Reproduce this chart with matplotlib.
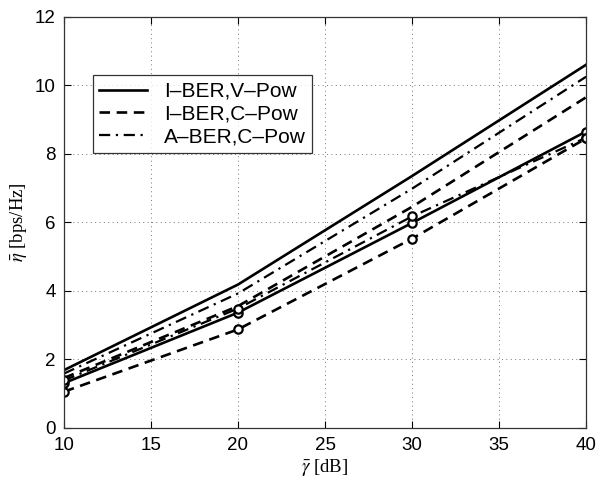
import matplotlib
matplotlib.use("Agg")
import matplotlib.pyplot as plt

snr_db = [10, 20, 30, 40]

# upper group (no markers)
ivpow = [1.68, 4.18, 7.35, 10.60]
icpow = [1.45, 3.55, 6.45, 9.65]
acpow = [1.58, 3.92, 6.98, 10.25]

# lower group (circle markers)
ivpow_o = [1.30, 3.36, 5.98, 8.65]
icpow_o = [1.05, 2.87, 5.52, 8.45]
acpow_o = [1.38, 3.48, 6.17, 8.47]

legend_labels = ["I\u2013BER,V\u2013Pow", "I\u2013BER,C\u2013Pow", "A\u2013BER,C\u2013Pow"]
xticks = [10, 15, 20, 25, 30, 35, 40]
yticks = [0, 2, 4, 6, 8, 10, 12]

plt.rcParams['font.family'] = ['Liberation Sans', 'DejaVu Sans']
plt.rcParams['mathtext.fontset'] = 'stix'

fig = plt.figure(figsize=(6.03, 4.80), dpi=100)
ax = fig.add_axes([0.106, 0.109, 0.866, 0.856])

lw = 1.9
ax.plot(snr_db, ivpow, color='black', lw=lw, ls='-', label=legend_labels[0])
ax.plot(snr_db, icpow, color='black', lw=lw, ls=(0, (4, 2.5)), label=legend_labels[1])
ax.plot(snr_db, acpow, color='black', lw=lw * 0.85, ls=(0, (5, 2.5, 1, 2.5)), label=legend_labels[2])

mk = dict(marker='o', mfc='white', mec='black', ms=6, mew=1.6)
ax.plot(snr_db, ivpow_o, color='black', lw=lw, ls='-', **mk)
ax.plot(snr_db, icpow_o, color='black', lw=lw, ls=(0, (4, 2.5)), **mk)
ax.plot(snr_db, acpow_o, color='black', lw=lw * 0.85, ls=(0, (5, 2.5, 1, 2.5)), **mk)

ax.set_xlim(10, 40)
ax.set_ylim(0, 12)
ax.set_xticks(xticks)
ax.set_yticks(yticks)
ax.tick_params(direction='in', top=True, right=True, labelsize=13.5, length=5, width=0.8)
ax.tick_params(axis='x', pad=7)
ax.tick_params(axis='y', pad=6)
for s in ax.spines.values():
    s.set_linewidth(0.9)
    s.set_color('#333333')
ax.grid(True, ls=(0, (1, 3.5)), color='#777777', lw=0.7)

ax.set_xlabel(r"$\bar{\gamma}$ [dB]", fontsize=13.5, family='Liberation Serif', labelpad=2)
ax.set_ylabel(r"$\bar{\eta}$ [bps/Hz]", fontsize=13.5, family='Liberation Serif', labelpad=4)

leg = ax.legend(loc='upper left', bbox_to_anchor=(0.055, 0.858), fontsize=15,
                frameon=True, fancybox=False, edgecolor='black', handlelength=2.3,
                borderpad=0.32, labelspacing=0.18, handletextpad=0.8, borderaxespad=0)
leg.get_frame().set_linewidth(0.9)

fig.savefig("out.png", dpi=100)
